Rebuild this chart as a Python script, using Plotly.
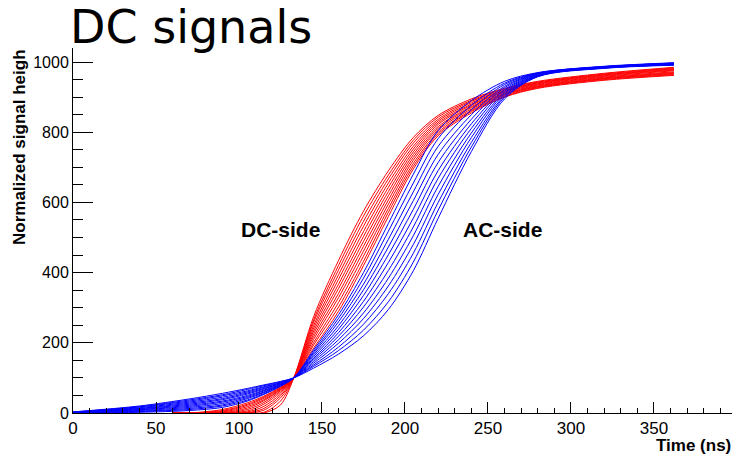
import plotly.graph_objects as go

# Time grids (ns)
time_red = [60, 70, 90, 105, 115, 125, 133, 145, 160, 175, 190, 205, 220, 240, 260, 280, 320, 362]
time_blue = [0, 40, 70, 90, 105, 115, 125, 133, 145, 160, 175, 190, 205, 220, 240, 260, 280, 320, 362]

# DC-side signals (red), normalized signal height
dc_r0 = [0, 0, 0, 0, 0, 23, 100, 275, 435, 575, 690, 785, 848, 895, 925, 945, 968, 985]
dc_r1 = [0, 0, 0, 0, 2, 34, 100, 266, 421, 561, 678, 777, 843, 891, 923, 943, 966, 983]
dc_r2 = [0, 0, 0, 0, 8, 43, 100, 259, 408, 546, 667, 769, 837, 888, 920, 941, 964, 981]
dc_r3 = [0, 0, 0, 1, 13, 49, 100, 250, 394, 532, 655, 760, 832, 884, 918, 940, 963, 979]
dc_r4 = [0, 0, 0, 3, 19, 54, 100, 242, 381, 517, 643, 752, 827, 880, 916, 938, 961, 977]
dc_r5 = [0, 0, 0, 6, 25, 59, 100, 234, 367, 503, 631, 744, 822, 877, 914, 936, 959, 975]
dc_r6 = [0, 0, 0, 10, 30, 63, 100, 226, 355, 489, 619, 736, 816, 873, 911, 934, 957, 972]
dc_r7 = [0, 0, 1, 14, 35, 66, 100, 218, 341, 475, 607, 728, 811, 870, 909, 932, 955, 970]
dc_r8 = [0, 0, 3, 18, 38, 68, 100, 210, 329, 461, 595, 720, 806, 866, 907, 930, 953, 968]
dc_r9 = [0, 0, 5, 22, 42, 70, 100, 201, 315, 447, 583, 711, 800, 862, 905, 929, 952, 966]
dc_r10 = [0, 0, 7, 25, 45, 72, 100, 194, 302, 432, 572, 703, 795, 859, 902, 927, 950, 964]
dc_r11 = [0, 0, 10, 29, 48, 74, 100, 185, 290, 420, 560, 695, 790, 855, 900, 925, 948, 962]

# AC-side signals (blue)
ac_b0 = [0, 2, 7, 16, 34, 53, 76, 100, 180, 280, 400, 540, 680, 805, 890, 945, 970, 988, 998]
ac_b1 = [0, 4, 10, 20, 37, 55, 77, 100, 175, 270, 384, 518, 655, 782, 877, 940, 969, 987, 997]
ac_b2 = [1, 5, 13, 23, 41, 58, 79, 100, 171, 260, 367, 495, 630, 760, 864, 936, 968, 987, 997]
ac_b3 = [1, 7, 16, 27, 44, 60, 80, 100, 166, 249, 351, 473, 605, 737, 850, 931, 967, 986, 996]
ac_b4 = [1, 9, 19, 31, 47, 63, 81, 100, 161, 239, 335, 451, 580, 714, 837, 927, 966, 986, 995]
ac_b5 = [1, 10, 22, 34, 50, 65, 82, 100, 156, 229, 318, 429, 555, 691, 824, 922, 965, 985, 995]
ac_b6 = [2, 12, 25, 38, 54, 68, 84, 100, 152, 219, 302, 406, 530, 669, 811, 918, 963, 985, 994]
ac_b7 = [2, 13, 28, 41, 57, 70, 85, 100, 147, 209, 285, 384, 505, 646, 798, 913, 962, 984, 994]
ac_b8 = [2, 15, 31, 45, 60, 73, 86, 100, 142, 199, 269, 362, 480, 623, 785, 909, 961, 984, 993]
ac_b9 = [2, 17, 34, 49, 63, 75, 87, 100, 137, 188, 253, 340, 455, 600, 771, 904, 960, 983, 992]
ac_b10 = [3, 18, 37, 52, 67, 78, 89, 100, 133, 178, 236, 317, 430, 578, 758, 900, 959, 983, 992]
ac_b11 = [3, 20, 40, 56, 70, 80, 90, 100, 128, 168, 220, 295, 405, 555, 745, 895, 958, 982, 991]

dc_series = [dc_r0, dc_r1, dc_r2, dc_r3, dc_r4, dc_r5, dc_r6, dc_r7, dc_r8, dc_r9, dc_r10, dc_r11]
ac_series = [ac_b0, ac_b1, ac_b2, ac_b3, ac_b4, ac_b5, ac_b6, ac_b7, ac_b8, ac_b9, ac_b10, ac_b11]

x_ticks = [0, 50, 100, 150, 200, 250, 300, 350]
y_ticks = [0, 200, 400, 600, 800, 1000]

fig = go.Figure()
for ys in dc_series:
    fig.add_trace(go.Scatter(x=time_red, y=ys, mode="lines",
                             line=dict(color="#ff0000", width=1, shape="spline", smoothing=0.9),
                             hoverinfo="skip", showlegend=False))
for ys in ac_series:
    fig.add_trace(go.Scatter(x=time_blue, y=ys, mode="lines",
                             line=dict(color="#0000ff", width=1, shape="spline", smoothing=0.9),
                             hoverinfo="skip", showlegend=False))

x_tick_font = dict(family="Liberation Sans, Arial, sans-serif", size=17, color="black")
y_tick_font = dict(family="Liberation Sans, Arial, sans-serif", size=16, color="black")
bold_font = dict(family="Liberation Sans, Arial, sans-serif", size=17, color="black", weight="bold")

fig.update_layout(
    width=732, height=455,
    margin=dict(l=73, r=0, t=48, b=42),
    paper_bgcolor="white", plot_bgcolor="white",
    xaxis=dict(range=[0, 397], showline=True, linecolor="black", linewidth=1,
               ticks="inside", ticklen=11, tickwidth=1, tickcolor="black",
               tickvals=x_ticks, ticktext=[str(v) for v in x_ticks],
               minor=dict(dtick=10, tick0=0, ticks="inside", ticklen=5, tickcolor="black", tickwidth=1),
               showgrid=False, zeroline=False, tickfont=x_tick_font),
    yaxis=dict(range=[0, 1040], showline=True, linecolor="black", linewidth=1,
               ticks="inside", ticklen=20, tickwidth=1, tickcolor="black",
               tickvals=y_ticks, ticktext=[str(v) for v in y_ticks],
               minor=dict(dtick=50, tick0=0, ticks="inside", ticklen=10, tickcolor="black", tickwidth=1),
               showgrid=False, zeroline=False, tickfont=y_tick_font),
)

fig.add_annotation(text="DC signals", xref="paper", yref="paper", x=-0.0076, y=1.0575,
                   xanchor="left", yanchor="middle", showarrow=False,
                   font=dict(family="DejaVu Sans", size=46, color="black"))
fig.add_annotation(text="Normalized signal heigh", xref="paper", yref="paper", x=-0.0804, y=0.4548,
                   xanchor="center", yanchor="bottom", textangle=-90, showarrow=False, font=bold_font)
fig.add_annotation(text="Time (ns)", xref="paper", yref="paper", x=0.882, y=-0.090,
                   xanchor="left", yanchor="middle", showarrow=False, font=bold_font)
fig.add_annotation(text="DC-side", xref="x", yref="y", x=124.7, y=524,
                   xanchor="center", yanchor="middle", showarrow=False,
                   font=dict(family="Liberation Sans, Arial, sans-serif", size=21, color="black", weight="bold"))
fig.add_annotation(text="AC-side", xref="x", yref="y", x=259, y=524,
                   xanchor="center", yanchor="middle", showarrow=False,
                   font=dict(family="Liberation Sans, Arial, sans-serif", size=21, color="black", weight="bold"))

fig.write_html("out.html")
